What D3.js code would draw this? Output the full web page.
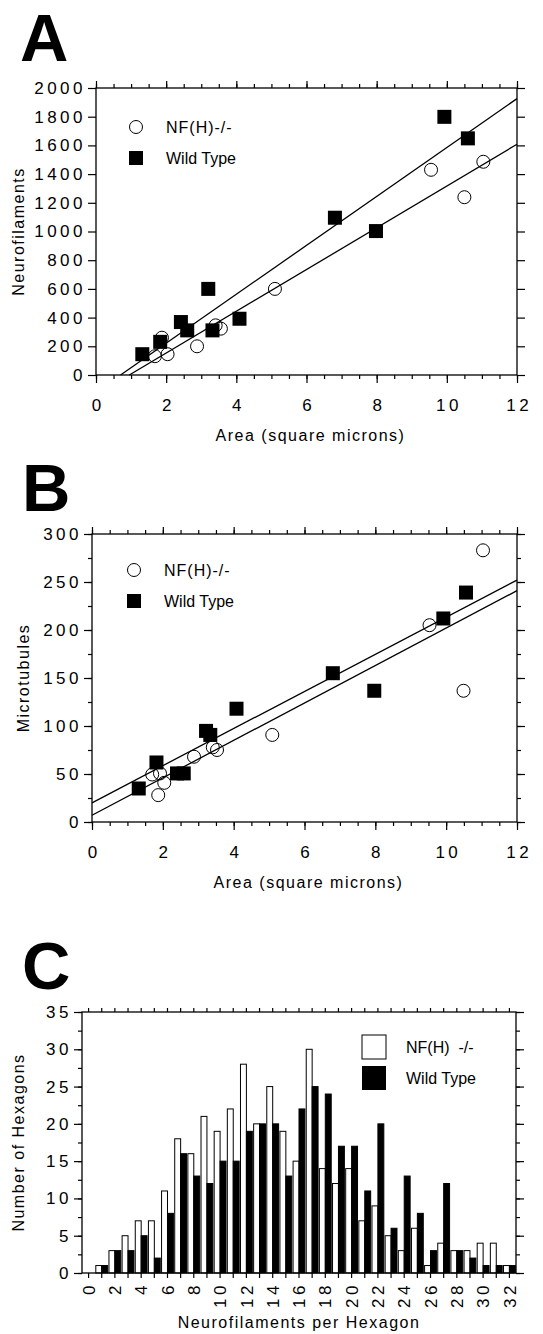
<!DOCTYPE html>
<meta charset="utf-8">
<style>
    body { margin: 0; background: #fff; }
    text { font-family: "Liberation Sans", Arial, sans-serif; fill: #000; }
    .lbl { font-size: 17px; letter-spacing: 3.5px; }
    .ttl { font-size: 16px; letter-spacing: 1.5px; }
    .leg { font-size: 16px; }
    .big { font-size: 67px; font-weight: bold; }
</style>

<body>
    <script src="https://cdnjs.cloudflare.com/ajax/libs/d3/7.8.5/d3.min.js"></script>
    <script>
        // ---- panel A: neurofilaments vs area
        var areaNF_A = [1.68, 1.88, 2.04, 2.88, 3.41, 3.56, 5.1, 9.55, 10.5, 11.04]
        var nfNF_A = [131, 260, 145, 200, 346, 323, 600, 1430, 1239, 1486]
        var areaWT_A = [1.32, 1.83, 2.42, 2.6, 3.2, 3.32, 4.09, 6.81, 7.98, 9.93, 10.6]
        var nfWT_A = [145, 231, 369, 311, 600, 311, 392, 1096, 1003, 1799, 1649]
        var fitWT_A = [[0.7, 0], [12, 1926]]
        var fitNF_A = [[0.95, 0], [12, 1608]]

        // ---- panel B: microtubules vs area
        var areaNF_B = [1.70, 1.92, 1.87, 2.04, 2.88, 3.41, 3.53, 5.09, 9.53, 10.49, 11.04]
        var mtNF_B = [49.5, 50.6, 28, 40.8, 68, 77.8, 75, 90.7, 205, 136.7, 283]
        var areaWT_B = [1.32, 1.82, 2.4, 2.59, 3.22, 3.34, 4.08, 6.8, 7.97, 9.92, 10.56]
        var mtWT_B = [34.9, 62, 50.6, 50.6, 94.9, 90.7, 118, 155, 136.7, 212, 239]
        var fitWT_B = [[0, 20], [12, 252]]
        var fitNF_B = [[0, 7], [12, 241]]

        // ---- panel C: histogram
        var hexCats = [0, 1, 2, 3, 4, 5, 6, 7, 8, 9, 10, 11, 12, 13, 14, 15, 16,
            17, 18, 19, 20, 21, 22, 23, 24, 25, 26, 27, 28, 29, 30, 31, 32]
        var hexNF = [0, 1, 3, 5, 7, 7, 11, 18, 16, 21, 19, 22, 28, 20, 25, 19, 15,
            30, 14, 12, 14, 7, 9, 5, 3, 6, 1, 4, 3, 3, 4, 4, 1]
        var hexWT = [0, 1, 3, 3, 5, 2, 8, 16, 13, 12, 15, 15, 19, 20, 20, 13, 22,
            25, 24, 17, 17, 11, 20, 6, 13, 8, 3, 12, 3, 2, 1, 1, 1]

        var areaTicks = [0, 2, 4, 6, 8, 10, 12]
        var areaMinor = [0, 0.5, 1, 1.5, 2, 2.5, 3, 3.5, 4, 4.5, 5, 5.5, 6, 6.5, 7, 7.5, 8,
            8.5, 9, 9.5, 10, 10.5, 11, 11.5, 12]
        var nfTicks = [0, 200, 400, 600, 800, 1000, 1200, 1400, 1600, 1800, 2000]
        var mtTicks = [0, 50, 100, 150, 200, 250, 300]
        var mtMinor = [0, 25, 50, 75, 100, 125, 150, 175, 200, 225, 250, 275, 300]
        var cntTicks = [0, 5, 10, 15, 20, 25, 30, 35]
        var cntMinor = [0, 2.5, 5, 7.5, 10, 12.5, 15, 17.5, 20, 22.5, 25, 27.5, 30, 32.5, 35]

        var fmt = d3.format("d")

        var svg = d3.select("body").append("svg")
            .attr("width", 543)
            .attr("height", 1334)

        function clean(g) {
            g.select(".domain").remove()
            g.attr("font-size", null).attr("font-family", null)
            g.selectAll("line").attr("stroke", "#000").attr("stroke-width", 1.2)
        }

        function tickGroup(axis, tx, ty) {
            return svg.append("g")
                .attr("transform", "translate(" + tx + "," + ty + ")")
                .call(axis).call(clean)
        }

        function yTitle(txt, cx, cy) {
            svg.append("text").attr("class", "ttl")
                .attr("transform", "translate(" + cx + "," + cy + ") rotate(-90)")
                .attr("text-anchor", "middle")
                .attr("dominant-baseline", "central")
                .text(txt)
        }

        function legText(txt, x, y, ls) {
            svg.append("text").attr("class", "leg").attr("x", x).attr("y", y)
                .attr("dominant-baseline", "central")
                .style("letter-spacing", ls + "px").style("white-space", "pre")
                .text(txt)
        }

        function scatter(p) {
            var x = d3.scaleLinear().domain([0, 12]).range([p.left, p.left + p.w])
            var y = d3.scaleLinear().domain([0, p.ymax]).range([p.top + p.h, p.top])
            var bottom = p.top + p.h, right = p.left + p.w

            svg.append("text").attr("class", "big").attr("x", p.letterX).attr("y", p.letterY).text(p.letter)

            // minor + major ticks, all four sides
            tickGroup(d3.axisBottom(x).tickValues(areaMinor).tickSize(4).tickFormat(""), 0, bottom)
            tickGroup(d3.axisTop(x).tickValues(areaMinor).tickSize(4).tickFormat(""), 0, p.top)
            tickGroup(d3.axisTop(x).tickValues(areaTicks).tickSize(7).tickFormat(""), 0, p.top)
            var xa = tickGroup(d3.axisBottom(x).tickValues(areaTicks).tickSize(8).tickFormat(fmt), 0, bottom)
            xa.selectAll("text").attr("class", "lbl").attr("y", 24).attr("dy", "0.71em").attr("dx", "0.1em")

            if (p.yMinor) {
                tickGroup(d3.axisLeft(y).tickValues(p.yMinor).tickSize(4).tickFormat(""), p.left, 0)
                tickGroup(d3.axisRight(y).tickValues(p.yMinor).tickSize(4).tickFormat(""), right, 0)
            }
            tickGroup(d3.axisRight(y).tickValues(p.yTicks).tickSize(8).tickFormat(""), right, 0)
            var ya = tickGroup(d3.axisLeft(y).tickValues(p.yTicks).tickSize(8).tickFormat(fmt), p.left, 0)
            ya.selectAll("text").attr("class", "lbl").attr("x", -10)

            svg.append("rect")
                .attr("x", p.left).attr("y", p.top)
                .attr("width", p.w).attr("height", p.h)
                .attr("fill", "none").attr("stroke", "#000").attr("stroke-width", 1.3)

            var line = d3.line().x(function (d) { return x(d[0]) }).y(function (d) { return y(d[1]) })
            svg.append("path").attr("d", line(p.fitWT)).attr("stroke", "#000").attr("fill", "none").attr("stroke-width", 1.3)
            svg.append("path").attr("d", line(p.fitNF)).attr("stroke", "#000").attr("fill", "none").attr("stroke-width", 1.3)

            svg.append("g").selectAll("rect")
                .data(d3.zip(p.wx, p.wy))
                .enter().append("rect")
                .attr("x", function (d) { return x(d[0]) - 7 })
                .attr("y", function (d) { return y(d[1]) - 7 })
                .attr("width", 14).attr("height", 14)
                .attr("fill", "#000")

            svg.append("g").selectAll("circle")
                .data(d3.zip(p.nx, p.ny))
                .enter().append("circle")
                .attr("cx", function (d) { return x(d[0]) })
                .attr("cy", function (d) { return y(d[1]) })
                .attr("r", 6.5)
                .attr("fill", "none").attr("stroke", "#000").attr("stroke-width", 1)

            // legend
            svg.append("circle").attr("cx", p.legX).attr("cy", p.legY).attr("r", 6.5)
                .attr("fill", "#fff").attr("stroke", "#000").attr("stroke-width", 1)
            svg.append("rect").attr("x", p.legX - 7).attr("y", p.legY + 31 - 7).attr("width", 14).attr("height", 14)
            legText("NF(H)-/-", p.legX + 30, p.legY, 1)
            legText("Wild Type", p.legX + 30, p.legY + 31, 0)

            svg.append("text").attr("class", "ttl").attr("x", p.left + p.w / 2 + 4).attr("y", bottom + 66)
                .attr("text-anchor", "middle").text("Area (square microns)")
            yTitle(p.yLabel, p.yTitleX, p.top + p.h / 2)
        }

        scatter({
            letter: "A", letterX: 20, letterY: 61,
            left: 96, top: 88, w: 421, h: 287, ymax: 2000,
            yTicks: nfTicks, yMinor: null, yLabel: "Neurofilaments", yTitleX: 18,
            nx: areaNF_A, ny: nfNF_A, wx: areaWT_A, wy: nfWT_A,
            fitWT: fitWT_A, fitNF: fitNF_A, legX: 136, legY: 127
        })

        scatter({
            letter: "B", letterX: 22, letterY: 511,
            left: 92, top: 534, w: 425, h: 288, ymax: 300,
            yTicks: mtTicks, yMinor: mtMinor, yLabel: "Microtubules", yTitleX: 23,
            nx: areaNF_B, ny: mtNF_B, wx: areaWT_B, wy: mtWT_B,
            fitWT: fitWT_B, fitNF: fitNF_B, legX: 134, legY: 570
        })

        // ---- panel C
        var cL = 82, cT = 1012, cW = 434, cH = 261, cB = cT + cH, cR = cL + cW
        svg.append("text").attr("class", "big").attr("x", 22).attr("y", 989).text("C")

        var xc = d3.scaleBand().domain(hexCats).range([cL, cR]).paddingInner(0.1).paddingOuter(0.05)
        var yc = d3.scaleLinear().domain([0, 35]).range([cB, cT])
        var half = xc.bandwidth() / 2

        svg.append("g").selectAll("rect")
            .data(hexCats)
            .enter().append("rect")
            .attr("x", function (d) { return xc(d) })
            .attr("y", function (d, i) { return yc(hexNF[i]) })
            .attr("width", half)
            .attr("height", function (d, i) { return yc(0) - yc(hexNF[i]) })
            .attr("fill", "#fff").attr("stroke", "#000").attr("stroke-width", 1)

        svg.append("g").selectAll("rect")
            .data(hexCats)
            .enter().append("rect")
            .attr("x", function (d) { return xc(d) + half })
            .attr("y", function (d, i) { return yc(hexWT[i]) })
            .attr("width", half)
            .attr("height", function (d, i) { return yc(0) - yc(hexWT[i]) })
            .attr("fill", "#000").attr("stroke", "#000").attr("stroke-width", 1)

        var xcb = tickGroup(d3.axisBottom(xc).tickSize(5)
            .tickFormat(function (d) { return d % 2 === 0 ? d : "" }), 0, cB)
        xcb.selectAll("text").attr("class", "lbl")
            .attr("transform", "rotate(-90)")
            .attr("text-anchor", "end")
            .attr("x", -9).attr("y", 0).attr("dy", "0.36em")
        tickGroup(d3.axisTop(xc).tickSize(4).tickFormat(""), 0, cT)

        tickGroup(d3.axisLeft(yc).tickValues(cntMinor).tickSize(4).tickFormat(""), cL, 0)
        tickGroup(d3.axisRight(yc).tickValues(cntMinor).tickSize(4).tickFormat(""), cR, 0)
        tickGroup(d3.axisRight(yc).tickValues(cntTicks).tickSize(8).tickFormat(""), cR, 0)
        var yca = tickGroup(d3.axisLeft(yc).tickValues(cntTicks).tickSize(8).tickFormat(fmt), cL, 0)
        yca.selectAll("text").attr("class", "lbl").attr("x", -10)

        svg.append("rect")
            .attr("x", cL).attr("y", cT).attr("width", cW).attr("height", cH)
            .attr("fill", "none").attr("stroke", "#000").attr("stroke-width", 1.3)

        // legend C
        svg.append("rect").attr("x", 362).attr("y", 1035).attr("width", 24).attr("height", 24)
            .attr("fill", "#fff").attr("stroke", "#000").attr("stroke-width", 1)
        svg.append("rect").attr("x", 362).attr("y", 1066).attr("width", 24).attr("height", 24)
            .attr("fill", "#000")
        legText("NF(H)  -/-", 406, 1047, 0)
        legText("Wild Type", 406, 1078, 0)

        svg.append("text").attr("class", "ttl").attr("x", (cL + cR) / 2).attr("y", 1328)
            .attr("text-anchor", "middle").text("Neurofilaments per Hexagon")
        yTitle("Number of Hexagons", 18, cT + cH / 2)
    </script>
</body>
